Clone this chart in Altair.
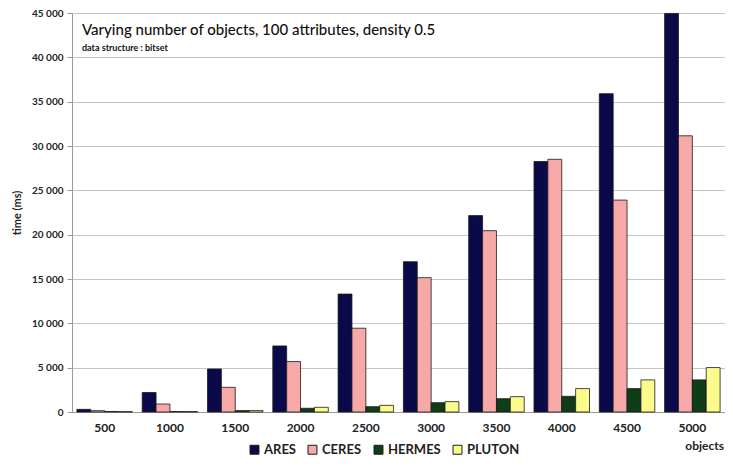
import altair as alt
import pandas as pd

objects = ["500", "1000", "1500", "2000", "2500", "3000", "3500", "4000", "4500", "5000"]
series = ["ARES", "CERES", "HERMES", "PLUTON"]
colors = ["#0a0a4a", "#f7a9a8", "#0f3d17", "#fbfb8c"]

ares = [300, 2200, 4850, 7450, 13300, 16950, 22150, 28250, 35900, 44950]
ceres = [150, 900, 2780, 5690, 9450, 15150, 20450, 28500, 23900, 31150]
hermes = [60, 50, 160, 420, 600, 1050, 1500, 1770, 2640, 3620]
pluton = [40, 50, 160, 530, 750, 1170, 1730, 2640, 3620, 5010]

y_ticks = [0, 5000, 10000, 15000, 20000, 25000, 30000, 35000, 40000, 45000]

title_text = "Varying number of objects, 100 attributes, density 0.5"
subtitle_text = "data structure : bitset"
x_title = "objects"
y_title = "time (ms)"

rows = []
for i, o in enumerate(objects):
    for s, vals in zip(series, [ares, ceres, hermes, pluton]):
        rows.append({"objects": o, "series": s, "time": vals[i]})
df = pd.DataFrame(rows)

FONT = "Lato"

bars = alt.Chart(df).mark_bar(stroke="#1a1a1a", strokeWidth=0.8).encode(
    x=alt.X("objects:N", sort=objects,
            scale=alt.Scale(paddingInner=0.15, paddingOuter=0.075),
            axis=alt.Axis(title=None, labelAngle=0, ticks=False, labelFont=FONT,
                          labelFontSize=12, labelFontWeight="bold", labelColor="#222",
                          labelPadding=10, domainColor="#9a9a9a")),
    xOffset=alt.XOffset("series:N", sort=series),
    y=alt.Y("time:Q", scale=alt.Scale(domain=[0, 45000], nice=False),
            axis=alt.Axis(values=y_ticks, title=y_title,
                          labelExpr="replace(format(datum.value, ','), ',', ' ')",
                          labelFont=FONT, labelFontSize=10, labelFontWeight="bold",
                          labelColor="#222", labelPadding=4, tickSize=5,
                          tickColor="#9a9a9a", domainColor="#9a9a9a",
                          grid=True, gridColor="#c4c4c4", gridWidth=1,
                          titleFont=FONT, titleFontSize=11, titleFontWeight="bold",
                          titleColor="#222", titlePadding=9)),
    color=alt.Color("series:N", sort=series,
                    scale=alt.Scale(domain=series, range=colors),
                    legend=alt.Legend(title=None, orient="none", direction="horizontal",
                                      legendX=176, legendY=430, symbolType="square",
                                      symbolSize=80, symbolStrokeColor="#1a1a1a",
                                      symbolStrokeWidth=1, labelFont=FONT,
                                      labelFontSize=13, labelFontWeight="bold",
                                      labelColor="#222", columnPadding=10,
                                      labelOffset=3, padding=0)),
)

title_df = pd.DataFrame({"t": [title_text]})
sub_df = pd.DataFrame({"t": [subtitle_text]})
xt_df = pd.DataFrame({"t": [x_title]})

title_mark = alt.Chart(title_df).mark_text(
    align="left", baseline="middle", font=FONT, fontSize=15, fontWeight=500, color="#111"
).encode(x=alt.value(10), y=alt.value(17), text="t:N")

sub_mark = alt.Chart(sub_df).mark_text(
    align="left", baseline="middle", font=FONT, fontSize=9, fontWeight="bold", color="#111"
).encode(x=alt.value(10), y=alt.value(35), text="t:N")

xt_mark = alt.Chart(xt_df).mark_text(
    align="right", baseline="middle", font=FONT, fontSize=12, fontWeight="bold", color="#222"
).encode(x=alt.value(652), y=alt.value(433), text="t:N")

chart = alt.layer(bars, title_mark, sub_mark, xt_mark).properties(
    width=653, height=399,
    autosize=alt.AutoSizeParams(type="none"),
    padding={"left": 64, "top": 5, "right": 0, "bottom": 46},
).configure_view(stroke=None).configure(background="white")

chart.save("out.html", embed_options={"renderer": "svg", "actions": False})
